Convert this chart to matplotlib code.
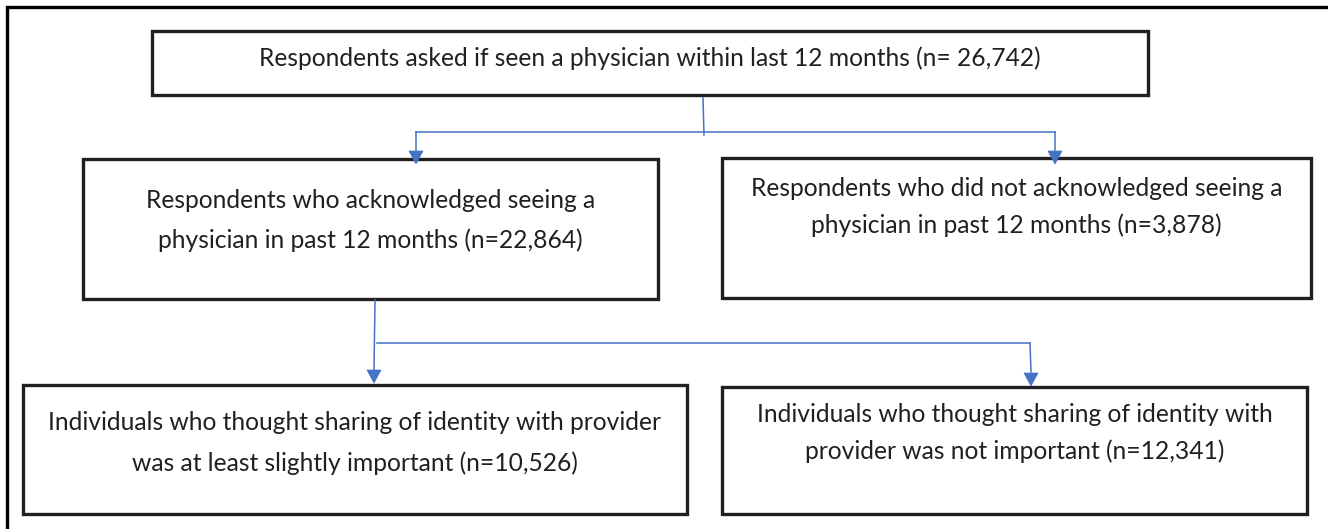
import matplotlib
matplotlib.use("Agg")
import matplotlib.pyplot as plt
from matplotlib.patches import Rectangle, Polygon

# ---- content ----
box_labels = [
    ["Respondents asked if seen a physician within last 12 months (n= 26,742)"],
    ["Respondents who acknowledged seeing a", "physician in past 12 months (n=22,864)"],
    ["Respondents who did not acknowledged seeing a", "physician in past 12 months (n=3,878)"],
    ["Individuals who thought sharing of identity with provider", "was at least slightly important (n=10,526)"],
    ["Individuals who thought sharing of identity with", "provider was not important (n=12,341)"],
]
counts = [26742, 22864, 3878, 10526, 12341]

# ---- layout (pixels) ----
W, H = 1328, 529
boxes = [  # x0, y0, x1, y1
    (152, 31, 1148, 95),
    (83, 159, 658, 299),
    (722, 158, 1311, 298),
    (23, 385, 687, 514),
    (722, 387, 1307, 514),
]
text_rows = [
    [58],
    [200, 240],
    [188, 225],
    [423, 463],
    [414, 451],
]

BLUE = "#4472C4"
EDGE = "#231F20"
TXT = "#231F20"

fig = plt.figure(figsize=(W / 100, H / 100), dpi=100)
ax = fig.add_axes([0, 0, 1, 1])
ax.set_xlim(0, W)
ax.set_ylim(H, 0)
ax.axis("off")

# outer frame (only top and left edges visible)
ax.plot([7, 7, W + 5], [H + 5, 7, 7], color="black", lw=2.4, solid_joinstyle="miter")

for (x0, y0, x1, y1), lines, rows in zip(boxes, box_labels, text_rows):
    ax.add_patch(Rectangle((x0, y0), x1 - x0, y1 - y0, fill=False,
                           ec=EDGE, lw=2.4, joinstyle="miter"))
    cx = (x0 + x1) / 2
    for ln, y in zip(lines, rows):
        ax.text(cx, y, ln, ha="center", va="center", fontsize=17.7,
                family="Lato", color=TXT)

def arrowhead(x, ytip, w=14, h=13):
    ax.add_patch(Polygon([(x - w / 2, ytip - h), (x + w / 2, ytip - h), (x, ytip)],
                         closed=True, fc=BLUE, ec=BLUE, lw=0.5))

lw = 1.1
# connector 1
ax.plot([703, 704], [98, 135], color=BLUE, lw=lw)
ax.plot([416, 1055], [132, 132], color=BLUE, lw=lw)
ax.plot([416, 416], [132, 150], color=BLUE, lw=lw)
ax.plot([1055, 1055], [132, 150], color=BLUE, lw=lw)
arrowhead(416, 164)
arrowhead(1055, 164)

# connector 2
ax.plot([375, 374], [300, 370], color=BLUE, lw=lw)
ax.plot([377, 1030], [343, 343], color=BLUE, lw=lw)
ax.plot([1030, 1031], [343, 372], color=BLUE, lw=lw)
arrowhead(374, 383)
arrowhead(1031, 386)

fig.savefig("out.png", dpi=100)
